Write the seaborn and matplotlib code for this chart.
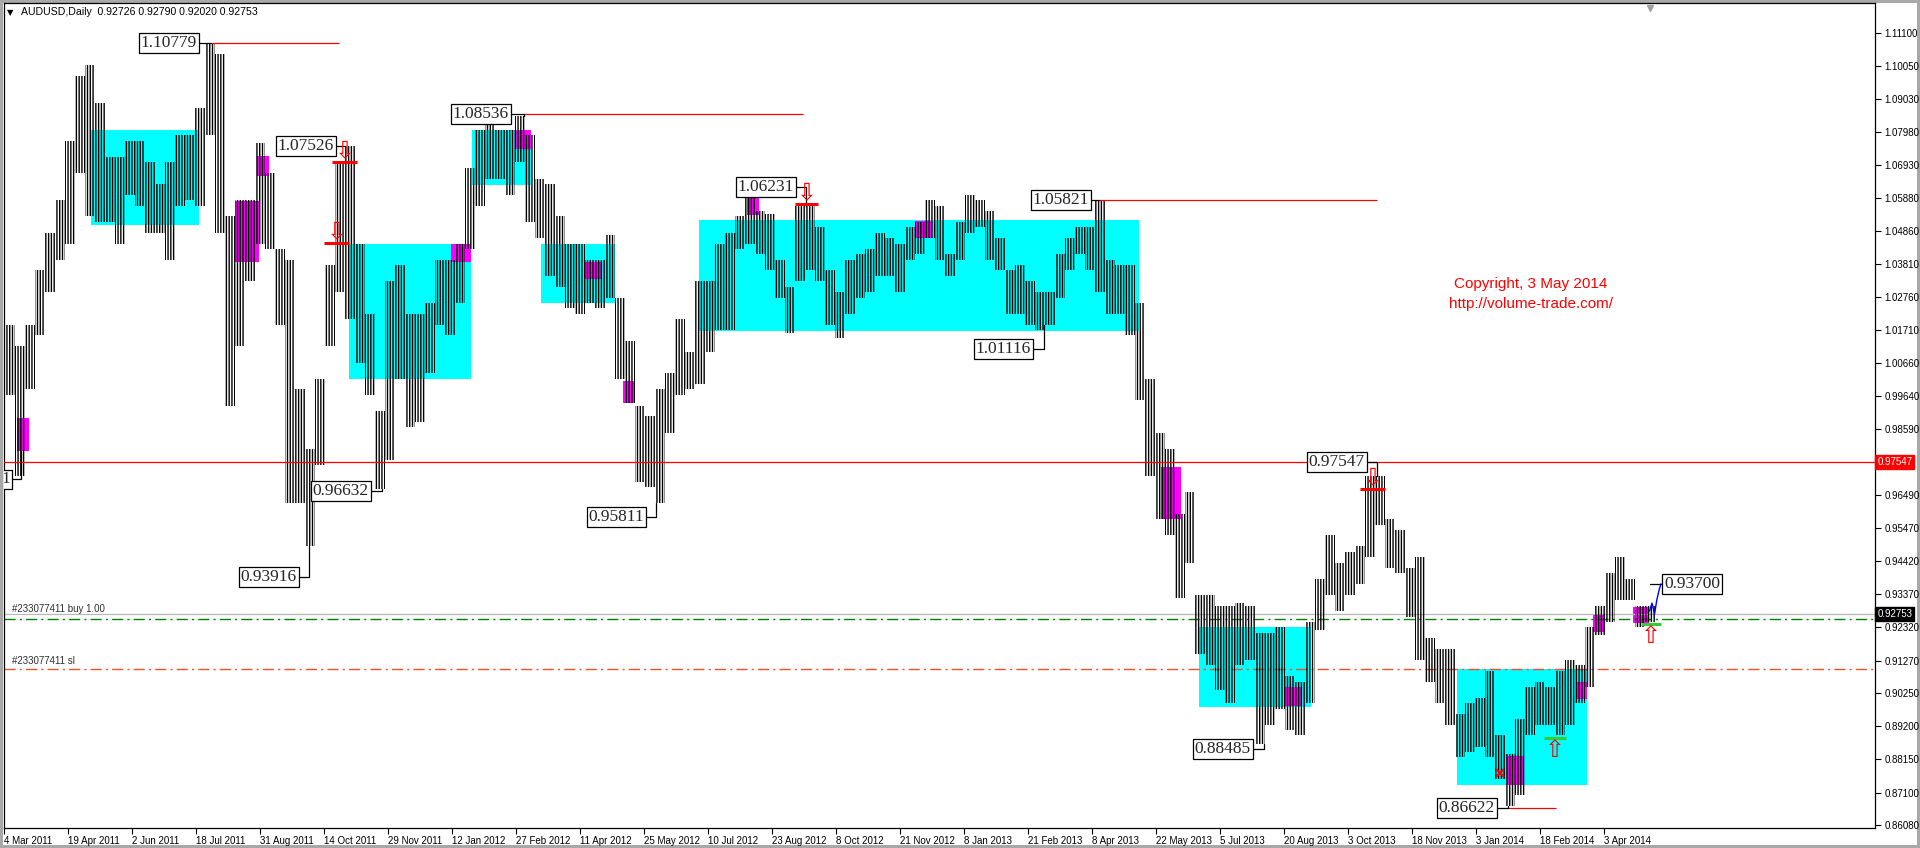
import numpy as np
import pandas as pd
import matplotlib
matplotlib.use("Agg")
import matplotlib.pyplot as plt
import matplotlib.transforms as mtransforms
from matplotlib.patches import Rectangle
import seaborn as sns

# ------------------------------------------------------------------ data
# price range of each 5-day block, block k covers bars 5k..5k+4
block_high = [
    1.0189, 1.0121, 1.0189, 1.0360, 1.0479, 1.0582, 1.0770, 1.0975, 1.1009, 1.0890,
    1.0719, 1.0719, 1.0770, 1.0770, 1.0702, 1.0633, 1.0702, 1.0787, 1.0787, 1.0873,
    1.1077, 1.1043, 1.0531, 1.0582, 1.0582, 1.0761, 1.0667, 1.0428, 1.0394, 0.9984,
    0.9796, 1.0018, 1.0377, 1.0702, 1.0753, 1.0445, 1.0223, 0.9916, 1.0326, 1.0377,
    1.0223, 1.0223, 1.0257, 1.0394, 1.0394, 1.0445, 1.0685, 1.0804, 1.0838, 1.0804,
    1.0804, 1.0847, 1.0787, 1.0650, 1.0633, 1.0531,
    1.0445, 1.0445, 1.0394, 1.0394, 1.0471, 1.0274, 1.0138, 0.9933, 0.9899, 0.9984,
    1.0035, 1.0206, 1.0103, 1.0326, 1.0326, 1.0445, 1.0479, 1.0531, 1.0599, 1.0548,
    1.0539, 1.0394, 1.0308, 1.0565, 1.0565, 1.0497, 1.0360, 1.0291, 1.0394, 1.0411,
    1.0428, 1.0479, 1.0462, 1.0445, 1.0497, 1.0514, 1.0582, 1.0565, 1.0411, 1.0514,
    1.0599, 1.0582, 1.0548, 1.0462, 1.0360, 1.0377, 1.0326, 1.0291, 1.0291, 1.0411,
    1.0462, 1.0497, 1.0497, 1.0582, 1.0394, 1.0377,
    1.0377, 1.0257, 1.0018, 0.9847, 0.9796, 0.9591, 0.9659, 0.9335, 0.9335, 0.9301,
    0.9301, 0.9309, 0.9301, 0.9215, 0.9215, 0.9232, 0.9078, 0.9061, 0.9249, 0.9386,
    0.9523, 0.9437, 0.9471, 0.9488, 0.9711, 0.9711, 0.9574, 0.9540, 0.9420, 0.9454,
    0.9198, 0.9164, 0.9164, 0.8959, 0.8993, 0.9010, 0.9096, 0.8891, 0.8831, 0.8942,
    0.9044, 0.9061, 0.9044, 0.9096, 0.9130, 0.9113, 0.9232, 0.9301, 0.9403, 0.9454,
    0.9386, 0.9301, 0.9301]
block_low = [
    0.9967, 0.9711, 0.9984, 1.0155, 1.0291, 1.0394, 1.0445, 1.0667, 1.0531, 1.0514,
    1.0514, 1.0445, 1.0599, 1.0565, 1.0479, 1.0479, 1.0394, 1.0565, 1.0582, 1.0565,
    1.0787, 1.0479, 0.9933, 1.0121, 1.0326, 1.0445, 1.0428, 1.0189, 0.9625, 0.9625,
    0.9488, 0.9745, 1.0121, 1.0291, 1.0206, 1.0069, 0.9967, 0.9668, 0.9762, 1.0018,
    0.9864, 0.9881, 1.0035, 1.0189, 1.0155, 1.0257, 1.0428, 1.0565, 1.0650, 1.0650,
    1.0599, 1.0702, 1.0514, 1.0462, 1.0343, 1.0308,
    1.0240, 1.0223, 1.0257, 1.0240, 1.0274, 1.0018, 0.9941, 0.9693, 0.9676, 0.9625,
    0.9847, 0.9967, 0.9984, 1.0001, 1.0103, 1.0172, 1.0172, 1.0428, 1.0445, 1.0411,
    1.0360, 1.0274, 1.0163, 1.0326, 1.0360, 1.0326, 1.0189, 1.0146, 1.0223, 1.0274,
    1.0291, 1.0343, 1.0343, 1.0291, 1.0394, 1.0411, 1.0462, 1.0394, 1.0343, 1.0394,
    1.0479, 1.0497, 1.0394, 1.0360, 1.0223, 1.0223, 1.0189, 1.0172, 1.0189, 1.0274,
    1.0360, 1.0411, 1.0360, 1.0291, 1.0223, 1.0223,
    1.0155, 0.9950, 0.9711, 0.9574, 0.9523, 0.9326, 0.9437, 0.9147, 0.9113, 0.9036,
    0.8993, 0.9113, 0.9130, 0.8865, 0.8925, 0.8976, 0.8908, 0.8891, 0.8993, 0.9224,
    0.9335, 0.9283, 0.9335, 0.9369, 0.9454, 0.9557, 0.9420, 0.9403, 0.9266, 0.9130,
    0.9061, 0.8993, 0.8925, 0.8822, 0.8839, 0.8856, 0.8822, 0.8754, 0.8668, 0.8703,
    0.8891, 0.8925, 0.8925, 0.8891, 0.8925, 0.8993, 0.9044, 0.9207, 0.9249, 0.9318,
    0.9318, 0.9232, 0.9249]
BARS_PER_BLOCK = 5

date_labels = ["4 Mar 2011", "19 Apr 2011", "2 Jun 2011", "18 Jul 2011", "31 Aug 2011",
               "14 Oct 2011", "29 Nov 2011", "12 Jan 2012", "27 Feb 2012", "11 Apr 2012",
               "25 May 2012", "10 Jul 2012", "23 Aug 2012", "8 Oct 2012", "21 Nov 2012",
               "8 Jan 2013", "21 Feb 2013", "8 Apr 2013", "22 May 2013", "5 Jul 2013",
               "20 Aug 2013", "3 Oct 2013", "18 Nov 2013", "3 Jan 2014", "18 Feb 2014",
               "3 Apr 2014"]
BARS_PER_LABEL = 32

price_ticks = [1.11100, 1.10050, 1.09030, 1.07980, 1.06930, 1.05880, 1.04860, 1.03810,
               1.02760, 1.01710, 1.00660, 0.99640, 0.98590, 0.96490, 0.95470, 0.94420,
               0.93370, 0.92320, 0.91270, 0.90250, 0.89200, 0.88150, 0.87100, 0.86080]

# zones (bar start, bar end, price low, price high)
cyan_x0 = [43.5, 172.5, 234.0, 268.5, 347.3, 597.5, 726.5]
cyan_x1 = [97.5, 233.5, 263.5, 305.3, 567.5, 653.5, 791.5]
cyan_lo = [1.0502, 1.0018, 1.0630, 1.0257, 1.0170, 0.8981, 0.8733]
cyan_hi = [1.0804, 1.0445, 1.0804, 1.0445, 1.0519, 0.9232, 0.9101]

mag_x0 = [6.5, 115.5, 126.5, 223.5, 255.5, 290.5, 309.5, 371.5, 455.5, 578.5, 640.5, 751.5, 786.5, 794.5, 814.5]
mag_x1 = [12.5, 127.5, 132.5, 233.5, 263.5, 298.5, 315.5, 377.5, 463.5, 588.5, 648.5, 759.5, 791.5, 800.5, 822.5]
mag_lo = [0.9788, 1.0386, 1.0659, 1.0386, 1.0744, 1.0334, 0.9941, 1.0536, 1.0461, 0.9574, 0.8984, 0.8733, 0.9006, 0.9219, 0.9246]
mag_hi = [0.9893, 1.0579, 1.0722, 1.0445, 1.0804, 1.0386, 1.0010, 1.0596, 1.0517, 0.9738, 0.9044, 0.8827, 0.9061, 0.9270, 0.9297]

# extreme labels: text, price, box right edge (bar), connector bar, bar extreme
label_text = ["1.10779", "1.07526", "0.93916", "0.96632", "1.08536", "0.95811", "1.06231",
              "1.01116", "1.05821", "0.97547", "0.88485", "0.86622", "1"]
label_price = [1.10779, 1.07526, 0.93916, 0.96632, 1.08536, 0.95811, 1.06231,
               1.01116, 1.05821, 0.97547, 0.88485, 0.86622, 0.97001]
label_xr = [97.5, 166.0, 147.5, 183.5, 253.5, 321.0, 396.0, 514.5, 543.5, 681.5, 624.5, 746.5, 4.0]
label_xc = [103.5, 170.5, 152.5, 189.0, 260.0, 326.0, 401.0, 520.0, 547.5, 686.5, 629.8, 751.8, 8.5]
label_end = [1.1077, 1.0753, 0.9488, 0.9668, 1.0847, 0.9625, 1.0565, 1.0189, 1.0582, 0.9711, 0.8865, 0.8668, 0.9788]

# horizontal level lines drawn from the labels
level_price = [1.10779, 1.08536, 1.05821, 0.86622]
level_x0 = [103.5, 260.0, 547.5, 751.8]
level_x1 = [167.5, 399.5, 686.5, 776.0]

key_level = 0.97547
last_price = 0.92753
buy_price = 0.92588
sl_price = 0.91008
target_text = "0.93700"

# sell / buy signals
sell_x0 = [164.0, 160.0, 395.5, 678.0]
sell_x1 = [176.5, 172.5, 407.0, 690.5]
sell_p = [1.0703, 1.0447, 1.0570, 0.9670]
buy_x0 = [770.0, 818.5]
buy_x1 = [781.0, 828.5]
buy_p = [0.8883, 0.9243]
cross_x, cross_p = 748.0, 0.8772

# projected path
proj_x = [822.8, 824.0, 825.3, 826.4, 827.6, 828.5]
proj_p = [0.9284, 0.9309, 0.9275, 0.9319, 0.9352, 0.9370]

# ------------------------------------------------------------------ figure
sns.set_style("white")
plt.rcParams["font.family"] = ["Liberation Sans", "DejaVu Sans"]
plt.rcParams["hatch.linewidth"] = 1.0

fig = plt.figure(figsize=(19.2, 8.48), dpi=100)
fig.patch.set_facecolor("white")
fig.patch.set_edgecolor("#a8a8a8")
fig.patch.set_linewidth(3)
ax = fig.add_axes([4 / 1920, 20 / 848, 1871 / 1920, 825 / 848])
ax.set_facecolor("white")
ax.set_xlim(0, 935.5)
ax.set_ylim(0.85986, 1.12048)

for x0, x1, lo, hi in zip(cyan_x0, cyan_x1, cyan_lo, cyan_hi):
    ax.add_patch(Rectangle((x0, lo), x1 - x0, hi - lo, facecolor="#00ffff", edgecolor="none", zorder=1))
for x0, x1, lo, hi in zip(mag_x0, mag_x1, mag_lo, mag_hi):
    ax.add_patch(Rectangle((x0, lo), x1 - x0, hi - lo, facecolor="#ff00ff", edgecolor="none", zorder=2))

# price bars: each block's high-low range drawn as a band of thin vertical bar strokes
for k, (hi, lo) in enumerate(zip(block_high, block_low)):
    x0 = 0.5 + BARS_PER_BLOCK * k
    ax.add_patch(Rectangle((x0, lo), BARS_PER_BLOCK, hi - lo, facecolor="none", edgecolor="black",
                           linewidth=0, hatch="||||||", zorder=3))

# horizontal lines
ax.axhline(key_level, color="red", lw=0.9, zorder=4)
ax.axhline(last_price, color="#b8b8b8", lw=0.9, zorder=2)
ax.axhline(buy_price, color="#008000", lw=1.0, ls=(0, (8, 3, 1.5, 3)), zorder=2)
ax.axhline(sl_price, color="#f0502a", lw=1.0, ls=(0, (8, 3, 1.5, 3)), zorder=2)
ax.hlines(level_price, level_x0, level_x1, colors="red", lw=0.9, zorder=4)

ax.text(4, 0.9282, "#233077411 buy 1.00", fontsize=7, color="#303030", va="baseline", ha="left", zorder=5)
ax.text(4, 0.9117, "#233077411 sl", fontsize=7, color="#303030", va="baseline", ha="left", zorder=5)

# extreme labels
for txt, p, xr, xc, pe in zip(label_text, label_price, label_xr, label_xc, label_end):
    ax.plot([xr, xc, xc], [p, p, pe], color="black", lw=0.9, zorder=5)
    ax.text(xr - 1.0, p, txt, ha="right", va="center", fontsize=12.5, family="Liberation Serif",
            bbox=dict(boxstyle="square,pad=0.1", fc="white", ec="black", lw=0.9), zorder=6, clip_on=True)

# target label
tp = float(target_text)
ax.plot([proj_x[0], proj_x[-1] + 0.5], [tp, tp], color="black", lw=0.9, zorder=5)
ax.text(proj_x[-1] + 1.5, tp, target_text, ha="left", va="center", fontsize=12.5, family="Liberation Serif",
        bbox=dict(boxstyle="square,pad=0.1", fc="white", ec="black", lw=0.9), zorder=6)

# signals
ax.hlines(sell_p, sell_x0, sell_x1, colors="red", lw=2.2, zorder=6)
for x0, x1, p in zip(sell_x0, sell_x1, sell_p):
    ax.text((x0 + x1) / 2, p, "\u21e9", color="red", fontsize=17, ha="center", va="bottom",
            family="DejaVu Sans", zorder=7)
ax.hlines(buy_p, buy_x0, buy_x1, colors="#33cc33", lw=2.2, zorder=6)
for x0, x1, p in zip(buy_x0, buy_x1, buy_p):
    ax.text((x0 + x1) / 2, p, "\u21e7", color="red", fontsize=17, ha="center", va="top",
            family="DejaVu Sans", zorder=7)
ax.plot([cross_x], [cross_p], marker="x", color="red", ms=6, mew=1.6, zorder=7)

# projection
sns.lineplot(x=proj_x, y=proj_p, ax=ax, color="blue", lw=1.0, zorder=6, sort=False)

# copyright
ax.text(763.5, 1.0317, "Copyright, 3 May 2014", color="red", fontsize=11, ha="center", va="center")
ax.text(763.5, 1.0254, "http://volume-trade.com/", color="red", fontsize=11, ha="center", va="center")

# header
ax.text(0.0035, 0.989, "\u25bc", transform=ax.transAxes, fontsize=6, family="DejaVu Sans",
        ha="center", va="center", color="black")
ax.text(0.009, 0.989, "AUDUSD,Daily  0.92726 0.92790 0.92020 0.92753", transform=ax.transAxes,
        fontsize=7.6, ha="left", va="center", color="black")
ax.plot([823], [1.1190], marker="v", color="#a0a0a0", ms=5, zorder=5)

# axes styling
for s in ax.spines.values():
    s.set_color("black")
    s.set_linewidth(0.9)
ax.set_xticks(np.arange(len(date_labels)) * BARS_PER_LABEL)
ax.set_xticklabels(date_labels, fontsize=7, ha="left", color="black")
off = mtransforms.ScaledTranslation(1.5 / 72, 0, fig.dpi_scale_trans)
for lab in ax.get_xticklabels():
    lab.set_transform(lab.get_transform() + off)
ax.tick_params(axis="x", bottom=True, direction="out", length=4, width=0.8, pad=2, colors="black")
ax.yaxis.tick_right()
ax.set_yticks(price_ticks)
ax.set_yticklabels([f"{v:.5f}" for v in price_ticks], fontsize=7, color="black")
ax.tick_params(axis="y", right=True, left=False, labelright=True, labelleft=False,
               direction="out", length=4, width=0.8, pad=3, colors="black")

blend = mtransforms.blended_transform_factory(ax.transAxes, ax.transData)
ax.text(1.0012, key_level, "0.97547", transform=blend, fontsize=7, color="white", ha="left", va="center",
        bbox=dict(boxstyle="square,pad=0.2", fc="red", ec="red"), zorder=8, clip_on=False)
ax.text(1.0012, last_price, "0.92753", transform=blend, fontsize=7, color="white", ha="left", va="center",
        bbox=dict(boxstyle="square,pad=0.2", fc="black", ec="black"), zorder=8, clip_on=False)

ax.set_xlabel("")
ax.set_ylabel("")
fig.savefig("out.png", dpi=100, facecolor=fig.get_facecolor(), edgecolor=fig.get_edgecolor())
